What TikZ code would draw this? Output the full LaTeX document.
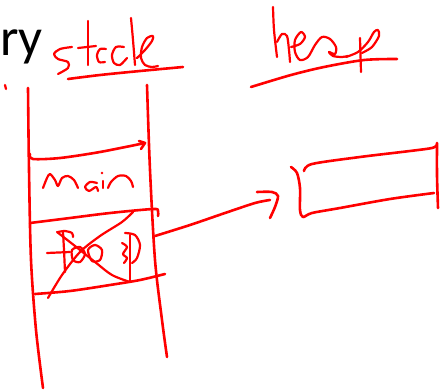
\documentclass[tikz,border=0pt]{standalone}
\usepackage{fontspec}
\setmainfont{Carlito}
\begin{document}
\begin{tikzpicture}[x=1pt,y=-1pt,
  ink/.style={draw=red, line width=2.6pt, line cap=round, line join=round},
  pen/.style={ink, line width=2.2pt}]
\useasboundingbox (0,0) rectangle (448,391);

% typed heading fragment
\node[anchor=base west, font=\fontsize{53}{60}\selectfont, inner sep=0pt] (title) at (0,55) {ry};

% small tick at the left margin
\draw[pen] (5,85) -- (6,89);

% ---- "stack" label ----
\draw[pen] plot[smooth] coordinates {(72,47) (60,49) (54,54) (58,59) (68,62) (68,68) (58,74)};
\draw[pen] plot[smooth] coordinates {(88,21) (88,40) (88,65)};
\draw[pen] (78,48) -- (96,46);
\draw[pen] plot[smooth] coordinates {(106,49) (100,49) (97,55) (99,62) (105,62)};
\draw[pen] plot[smooth] coordinates {(124,47) (116,47) (112,55) (114,63) (120,65) (127,58)};
\draw[pen] plot[smooth] coordinates {(131,18) (133,40) (135,65)};
\draw[pen] plot[smooth] coordinates {(137,58) (145,50) (152,41) (153,36) (147,38) (142,47) (141,58) (145,65) (152,67) (158,66)};
\draw[ink] plot[smooth] coordinates {(68,79) (100,75) (140,71) (183,67)};

% ---- "heap" label ----
\draw[pen] plot[smooth] coordinates {(273,7) (274,30) (277,57)};
\draw[pen] plot[smooth] coordinates {(277,42) (282,34) (287,36) (289,50) (290,62)};
\draw[pen] plot[smooth] coordinates {(291,47) (300,44) (305,37) (301,32) (295,40) (295,52) (300,60) (308,57) (315,45) (322,37) (330,39) (336,47) (335,54) (329,52) (333,56) (342,57) (348,56)};
\draw[pen] plot[smooth] coordinates {(346,57) (358,52) (368,42) (374,32) (378,30) (379,36) (372,47) (362,53)};
\draw[pen] (360,38) -- (361,72);
\draw[ink] plot[smooth] coordinates {(251,87) (291,75) (324,67) (364,60) (397,59)};

% ---- stack column ----
\draw[ink] plot[smooth] coordinates {(28,88) (29,170) (31,260) (36,330) (43,388)};
\draw[ink] plot[smooth] coordinates {(147,85) (150,170) (155,260) (162,320) (167,357)};

% frame boundaries
\draw[ink] plot[smooth] coordinates {(30,154) (33,159) (60,158) (100,152) (145,143)};
\draw[ink] (139,141) -- (145,143) -- (141,149);
\draw[ink] plot[smooth] coordinates {(30,223) (70,218) (110,213) (153,209) (158,211) (158,216)};
\draw[ink] plot[smooth] coordinates {(35,294) (70,291) (110,285) (140,280) (165,274)};

% "main"
\draw[pen] plot[smooth] coordinates {(43,188) (47,178) (50,174) (55,180) (58,186) (62,178) (68,176) (74,180) (78,188)};
\draw[pen] plot[smooth] coordinates {(97,183) (90,182) (85,187) (89,191) (96,187) (98,191)};
\draw[pen] (103,181) -- (103,188);
\fill[red] (102,173) circle (1.3);
\draw[pen] plot[smooth] coordinates {(108,188) (111,182) (118,176) (126,176) (131,181) (133,187)};

% "foo()" crossed out
\draw[pen] plot[smooth] coordinates {(63,232) (64,250) (65,272)};
\draw[pen] plot[smooth] coordinates {(58,232) (65,231) (72,233) (73,237)};
\draw[pen] (47,253) -- (70,252);
\draw[pen] plot[smooth cycle] coordinates {(72,250) (80,247) (85,254) (80,262) (73,260)};
\draw[pen] plot[smooth cycle] coordinates {(88,250) (95,245) (102,250) (100,260) (92,261)};
\draw[pen] plot[smooth] coordinates {(122,243) (127,247) (123,254) (127,258) (124,263)};
\draw[pen] plot[smooth] coordinates {(125,233) (135,235) (140,245) (137,258) (132,263)};
\draw[pen] (130,235) -- (130,281);
\draw[pen] plot[smooth] coordinates {(57,232) (75,246) (95,262) (112,275) (130,282)};
\draw[pen] plot[smooth] coordinates {(133,212) (122,222) (100,236) (80,252) (62,275) (48,298)};

% pointer to the heap object
\draw[ink] plot[smooth] coordinates {(155,236) (190,225) (225,213) (255,203) (270,200)};
\draw[ink] plot[smooth] coordinates {(257,192) (272,192) (278,196) (275,207) (270,218)};

% heap object
\draw[ink] plot[smooth] coordinates {(291,167) (297,173) (300,188) (300,210) (303,217) (312,213) (340,208) (390,199) (434,193)};
\draw[ink] plot[smooth] coordinates {(304,171) (312,164) (360,157) (410,151) (432,148) (437,145)};
\draw[ink] plot[smooth] coordinates {(437,143) (437,175) (438,208)};
\end{tikzpicture}
\end{document}
